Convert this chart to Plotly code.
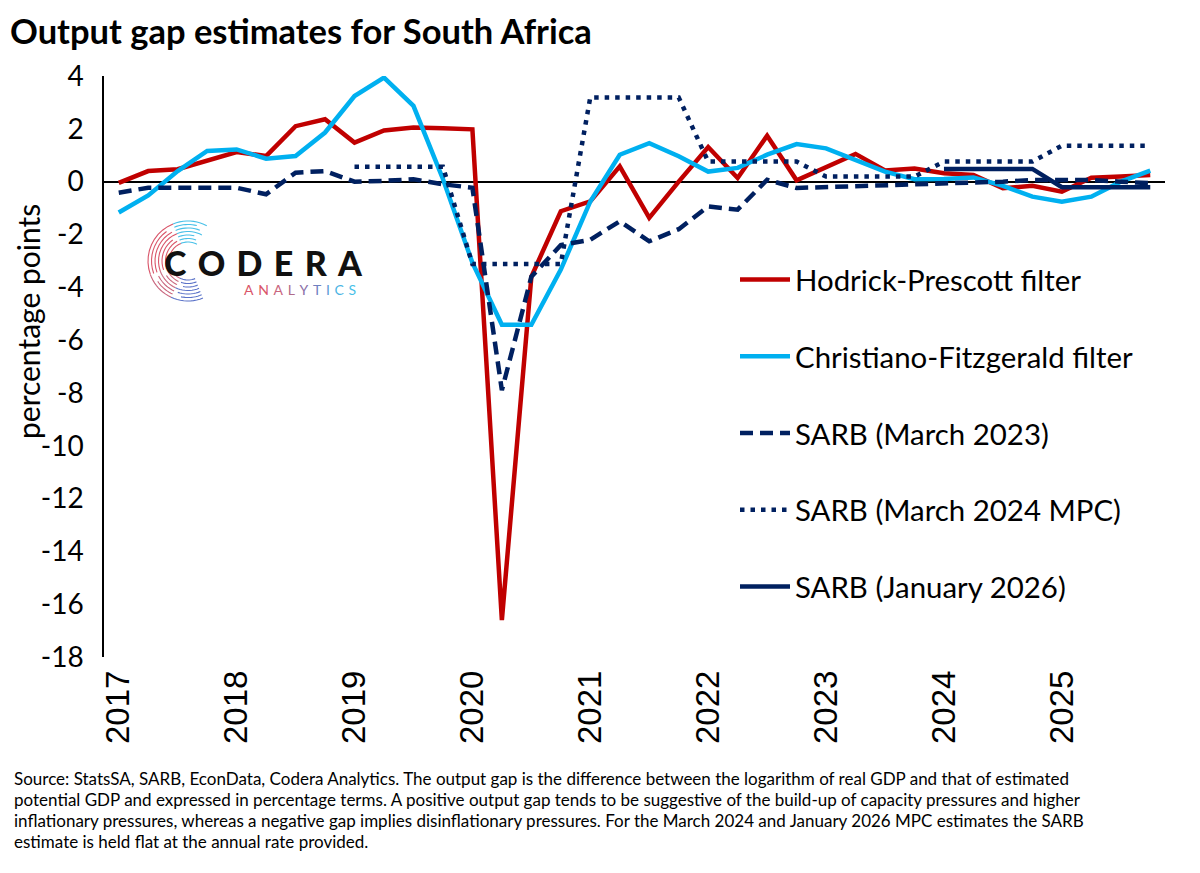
import math
import plotly.graph_objects as go

# ---------------- data (quarterly, 2017Q1 .. 2025Q4) ----------------
quarters = [f"{y}Q{q}" for y in range(2017, 2026) for q in range(1, 5)]
year_labels = ["2017", "2018", "2019", "2020", "2021", "2022", "2023", "2024", "2025"]
y_tick_vals = [4, 2, 0, -2, -4, -6, -8, -10, -12, -14, -16, -18]
y_tick_text = ["4", "2", "0", "-2", "-4", "-6", "-8", "-10", "-12", "-14", "-16", "-18"]

hp_filter = [-0.05, 0.40, 0.47, 0.78, 1.12, 0.97, 2.10, 2.36,
             1.48, 1.94, 2.05, 2.02, 1.98, -16.6, -3.6, -1.12,
             -0.75, 0.58, -1.37, 0.00, 1.31, 0.14, 1.74, 0.05,
             0.54, 1.05, 0.42, 0.50, 0.32, 0.25, -0.25, -0.16,
             -0.38, 0.15, 0.19, 0.25]

cf_filter = [-1.17, -0.52, 0.40, 1.16, 1.22, 0.87, 0.97, 1.86,
             3.24, 3.94, 2.87, 0.10, -3.07, -5.42, -5.42, -3.33,
             -0.75, 1.02, 1.46, 0.96, 0.38, 0.52, 1.02, 1.42,
             1.26, 0.82, 0.38, 0.09, 0.10, 0.16, -0.16, -0.57,
             -0.76, -0.57, 0.00, 0.42]

sarb_mar2023 = [-0.42, -0.23, -0.23, -0.25, -0.23, -0.48, 0.34, 0.40,
                0.00, 0.03, 0.09, -0.10, -0.23, -7.9, -3.6, -2.4,
                -2.2, -1.5, -2.26, -1.8, -0.94, -1.06, 0.07, -0.24,
                -0.21, -0.16, -0.13, -0.13, -0.10, -0.06, 0.00, 0.06,
                0.06, 0.06, 0.00, -0.06]

sarb_mar2024_mpc = [None] * 8 + [0.56] * 4 + [-3.12] * 4 + [3.19] * 4 + \
                   [0.76] * 4 + [0.19] * 4 + [0.76] * 4 + [1.36] * 4

sarb_jan2026 = [None] * 28 + [0.48] * 4 + [-0.21] * 4

footnote_lines = [
    "Source: StatsSA, SARB, EconData, Codera Analytics. The output gap is the difference between the logarithm of real GDP and that of estimated",
    "potential GDP and expressed in percentage terms. A positive output gap tends to be suggestive of the build-up of capacity pressures and higher",
    "inflationary pressures, whereas a negative gap implies disinflationary pressures. For the March 2024 and January 2026 MPC estimates the SARB",
    "estimate is held flat at the annual rate provided.",
]

# ---------------- styling / geometry ----------------
RED = "#C00000"
CYAN = "#00B0F0"
NAVY = "#002060"
OFF = 8                      # page body margin
W, H = 1200 - OFF, 873 - OFF
PL, PR, PT, PB = 104, 1165, 76, 657   # plot area in page pixels
ML, MR, MT, MB = PL - OFF, W - (PR - OFF), PT - OFF, H - (PB - OFF)


def px_to_paper(px, py):
    return (px - PL) / (PR - PL), (PB - py) / (PB - PT)


x_idx = list(range(len(quarters)))

fig = go.Figure()
series = [
    ("Hodrick-Prescott filter", hp_filter, RED, "solid"),
    ("Christiano-Fitzgerald filter", cf_filter, CYAN, "solid"),
    ("SARB (March 2023)", sarb_mar2023, NAVY, "13px,7px"),
    ("SARB (March 2024 MPC)", sarb_mar2024_mpc, NAVY, "4.5px,6px"),
    ("SARB (January 2026)", sarb_jan2026, NAVY, "solid"),
]
for i, (name, vals, col, dash) in enumerate(series):
    fig.add_trace(go.Scatter(
        x=x_idx, y=vals, name=name, mode="lines",
        line=dict(color=col, width=4.5, dash=dash),
        customdata=quarters, legendgroup=f"g{i}",
        hovertemplate="%{customdata}: %{y:.2f}<extra>" + name + "</extra>",
        connectgaps=False,
    ))

# ---------------- logo (decorative) ----------------
shapes = []
cx, cy = 188, 261
for k, r in enumerate([19, 22.5, 26, 29.5, 33, 36.5, 40]):
    segs = [(62, 112, "#48c0e8"), (112, 200, "#d9566a"), (200, 245, "#c9667e"), (245, 292, "#5a72c8")]
    for a0, a1, c in segs:
        a0s = a0 + (k % 3) * 7
        pts = []
        n = 10
        for j in range(n + 1):
            a = math.radians(a0s + (a1 - a0s) * j / n)
            X, Y = cx + r * math.cos(a), cy - r * math.sin(a)
            pts.append(px_to_paper(X, Y))
        path = "M " + " L ".join(f"{p[0]:.5f},{p[1]:.5f}" for p in pts)
        shapes.append(dict(type="path", xref="paper", yref="paper", path=path,
                           line=dict(color=c, width=1.1), layer="below"))

anal_cols = ["#d9566a", "#d9566a", "#c9667e", "#b06a8a", "#8a6fa8", "#6f80c0", "#5a9ad6", "#4ab4e4", "#48c0e8"]
analytics = "\u2004".join(f"<span style='color:{c}'>{ch}</span>" for ch, c in zip("ANALYTICS", anal_cols))

lx, ly = px_to_paper(162, 262)
ax2, ay2 = px_to_paper(242, 289)
tx, ty = px_to_paper(28, 322)

annotations = [
    dict(text="C\u2004O\u2004D\u2004E\u2004R\u2004A", x=lx, y=ly, xref="paper", yref="paper",
         xanchor="left", yanchor="middle", showarrow=False,
         font=dict(family="Lato", size=34, color="#111111", weight=900)),
    dict(text=analytics, x=ax2, y=ay2, xref="paper", yref="paper",
         xanchor="left", yanchor="middle", showarrow=False,
         font=dict(family="Lato", size=14)),
    dict(text="percentage points", x=tx, y=ty, xref="paper", yref="paper",
         textangle=-90, xanchor="center", yanchor="middle", showarrow=False,
         font=dict(family="Lato", size=30, color="black")),
]
for k, line in enumerate(footnote_lines):
    fx, fy = px_to_paper(12, 778 + 21.3 * k)
    annotations.append(dict(text=line, x=fx, y=fy, xref="paper", yref="paper",
                            xanchor="left", yanchor="middle", align="left", showarrow=False,
                            font=dict(family="Lato", size=17, color="black")))

legx, legy = px_to_paper(735, 254)

fig.update_layout(
    width=W, height=H,
    margin=dict(l=ML, r=MR, t=MT, b=MB),
    paper_bgcolor="white", plot_bgcolor="white",
    title=dict(text="<b>Output gap estimates for South Africa</b>", x=2 / W, xref="container",
               xanchor="left", y=1 - 24 / H, yref="container", yanchor="middle",
               font=dict(family="Lato", size=34.5, color="black", weight=900)),
    showlegend=True,
    legend=dict(x=legx, y=legy, xanchor="left", yanchor="top",
                font=dict(family="Lato", size=29.4, color="black"),
                bgcolor="rgba(0,0,0,0)", tracegroupgap=35.5, itemwidth=50,
                traceorder="grouped"),
    xaxis=dict(range=[-0.5, len(quarters) - 0.5], tickmode="array",
               tickvals=x_idx[::4], ticktext=year_labels, tickangle=-90,
               showgrid=False, zeroline=False, showline=False, ticks="",
               ticklabelstandoff=6,
               tickfont=dict(family="Liberation Sans", size=33, color="black")),
    yaxis=dict(range=[-18, 4], tickmode="array", tickvals=y_tick_vals, ticktext=y_tick_text,
               showgrid=False, zeroline=True, zerolinecolor="black", zerolinewidth=1.5,
               showline=True, linecolor="black", linewidth=1.5, ticks="",
               ticklabelstandoff=13,
               tickfont=dict(family="Lato", size=28, color="black")),
    shapes=shapes,
    annotations=annotations,
)

fig.write_html("out.html")
